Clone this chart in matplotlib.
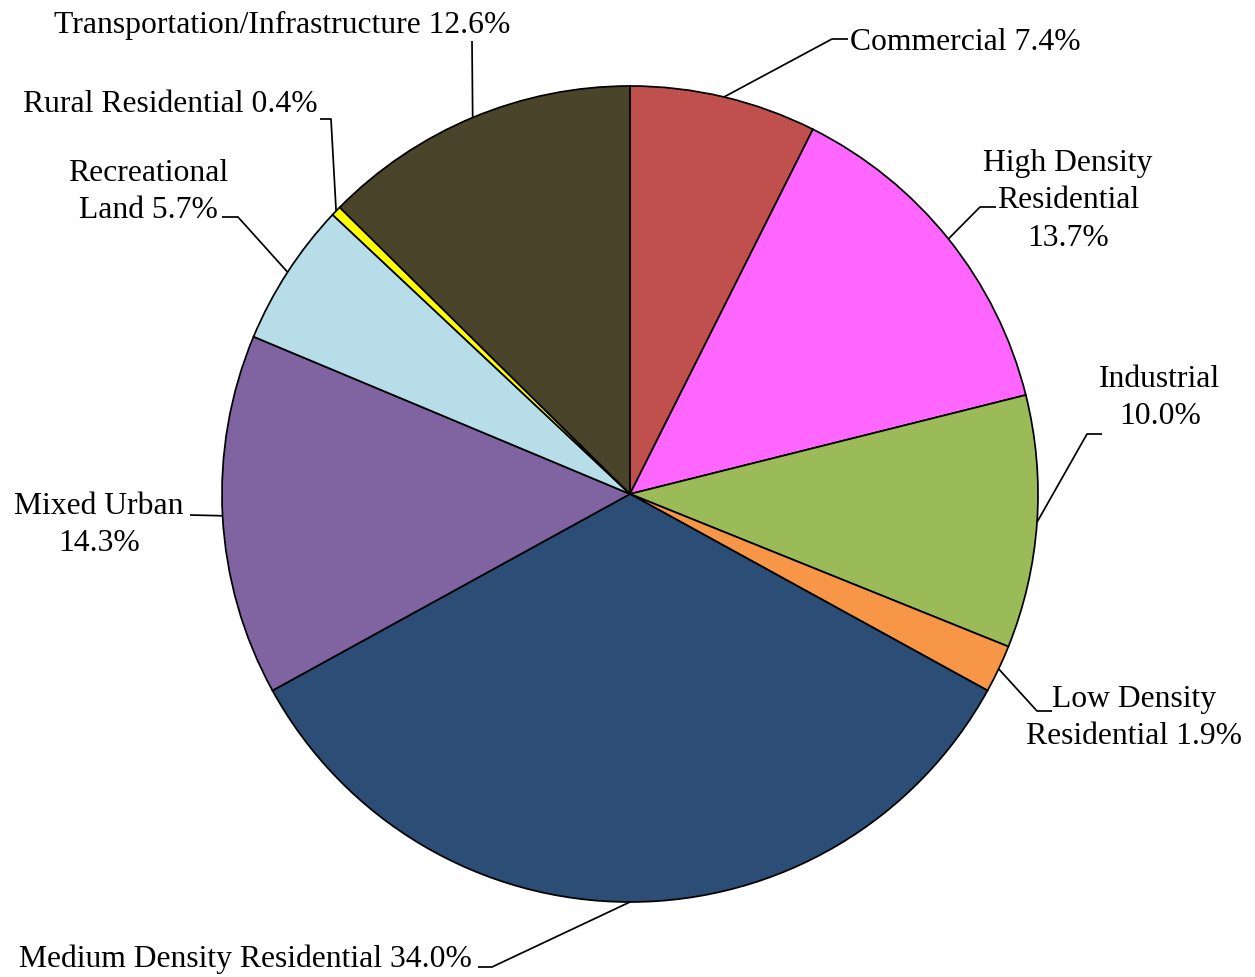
import numpy as np
from matplotlib import pyplot as plt

# land use shares (%), clockwise from 12 o'clock
categories = ['Commercial', 'High Density Residential', 'Industrial',
              'Low Density Residential', 'Medium Density Residential',
              'Mixed Urban', 'Recreational Land', 'Rural Residential',
              'Transportation/Infrastructure']
shares = [7.4, 13.7, 10.0, 1.9, 34.0, 14.3, 5.7, 0.4, 12.6]
label_texts = ['Commercial 7.4%', 'High Density\nResidential\n13.7%',
               'Industrial\n10.0%', 'Low Density\nResidential 1.9%',
               'Medium Density Residential 34.0%', 'Mixed Urban\n14.3%',
               'Recreational\nLand 5.7%', 'Rural Residential 0.4%',
               'Transportation/Infrastructure 12.6%']
colors = ['#C0504D', '#FF66FF', '#9BBB59', '#F79646', '#2C4D75',
          '#8064A2', '#B7DEE8', '#FFFF00', '#4A452A']

W, H = 1255, 978

# label layout in pixel coords (x, y from top), alignment, leader bends
label_pos = [(850, 43), (1068, 201), (1160, 398), (1134, 718), (472, 959),
             (99, 525), (148, 192), (318, 105), (282, 25)]
label_ha = ['left', 'center', 'center', 'center', 'right',
            'center', 'center', 'right', 'center']
leader_bends = [
    [(832, 40), (848, 40)],
    [(980, 208), (996, 208)],
    [(1087, 435), (1102, 435)],
    [(1037, 712), (1052, 712)],
    [(492, 968), (478, 968)],
    [(190, 516)],
    [(238, 218), (222, 218)],
    [(331, 120), (320, 120)],
    [(472, 42)],
]

plt.rcParams['font.family'] = ['Liberation Serif', 'DejaVu Serif']

fig = plt.figure(figsize=(W / 100, H / 100), dpi=100)
ax = fig.add_axes([0, 0, 1, 1])

cx, cy, r = 630, H - 495, 408
wedges, _ = ax.pie(shares, colors=colors, startangle=90, counterclock=False,
                   center=(cx, cy), radius=r,
                   wedgeprops=dict(edgecolor='black', linewidth=1.25))

for w, txt, (tx, ty), ha, bends in zip(wedges, label_texts, label_pos, label_ha, leader_bends):
    mid = np.deg2rad((w.theta1 + w.theta2) / 2)
    xs = [cx + r * np.cos(mid)] + [b[0] for b in bends]
    ys = [cy + r * np.sin(mid)] + [H - b[1] for b in bends]
    ax.plot(xs, ys, color='black', linewidth=1.25, solid_capstyle='butt')
    ax.text(tx, H - ty, txt, ha=ha, va='center', multialignment='center',
            fontsize=22.8, linespacing=1.38, color='black')

ax.set_xlim(0, W)
ax.set_ylim(0, H)
ax.set_aspect('auto')
ax.axis('off')

fig.savefig('out.png', dpi=100, facecolor='white')
